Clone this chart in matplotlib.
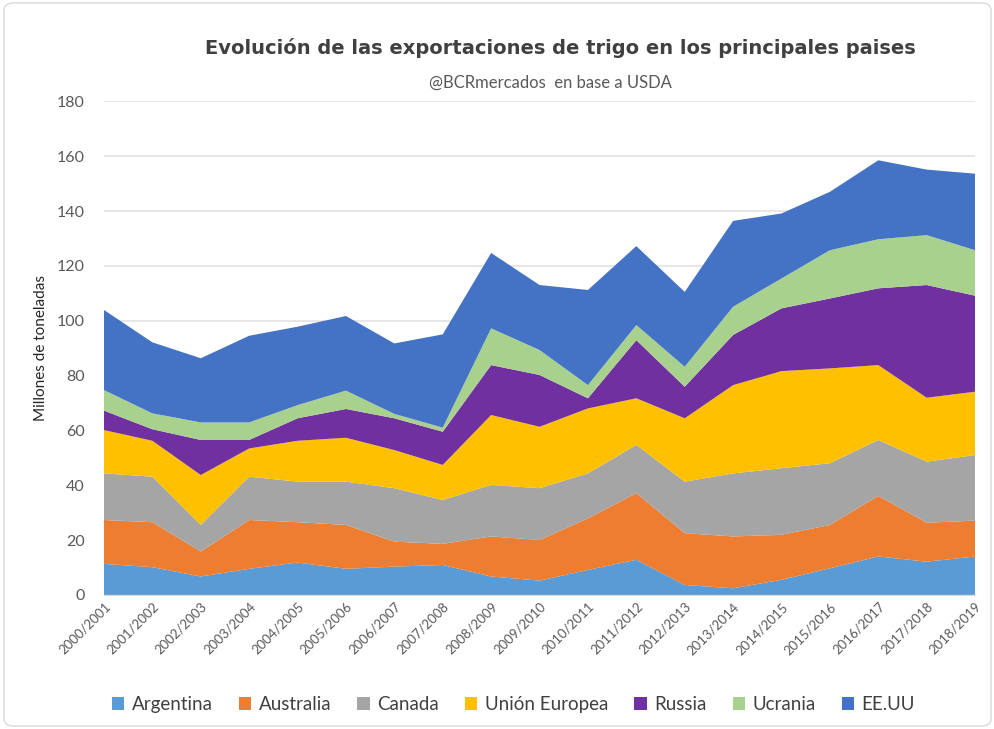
import matplotlib

matplotlib.use("Agg")
import matplotlib.pyplot as plt
import numpy as np
from matplotlib import font_manager
from matplotlib.patches import FancyBboxPatch


seasons = [
    "2000/2001", "2001/2002", "2002/2003", "2003/2004", "2004/2005",
    "2005/2006", "2006/2007", "2007/2008", "2008/2009", "2009/2010",
    "2010/2011", "2011/2012", "2012/2013", "2013/2014", "2014/2015",
    "2015/2016", "2016/2017", "2017/2018", "2018/2019",
]

argentina = [11.3, 10.1, 6.7, 9.5, 11.8, 9.5, 10.3, 10.9, 6.7, 5.2,
             9.1, 12.8, 3.6, 2.4, 5.5, 9.7, 14.0, 12.1, 14.0]
australia = [16.0, 16.4, 9.1, 17.8, 14.7, 16.0, 9.1, 7.7, 14.6, 14.8,
             18.8, 24.3, 18.9, 18.9, 16.4, 15.8, 22.1, 14.2, 13.1]
canada = [17.0, 16.6, 9.7, 15.8, 14.8, 15.8, 19.5, 16.0, 18.8, 18.9,
          16.4, 17.6, 18.8, 23.0, 24.3, 22.5, 20.4, 22.3, 23.9]
union_europea = [15.8, 13.1, 18.2, 10.3, 14.9, 16.0, 13.9, 12.8, 25.5, 22.4,
                 23.7, 17.0, 23.1, 32.2, 35.4, 34.6, 27.3, 23.3, 23.1]
russia = [7.1, 4.2, 12.8, 3.1, 8.2, 10.5, 11.6, 12.1, 18.2, 18.9,
          3.7, 21.2, 11.5, 18.3, 22.9, 25.5, 28.0, 41.1, 35.0]
ucrania = [7.5, 5.8, 6.4, 6.4, 4.8, 6.7, 1.6, 1.5, 13.4, 9.1,
           4.8, 5.5, 7.3, 10.3, 10.9, 17.6, 17.9, 18.2, 16.6]
eeuu = [29.2, 25.9, 23.4, 31.6, 28.6, 27.2, 25.7, 34.0, 27.5, 23.7,
        34.7, 28.8, 27.3, 31.3, 23.7, 21.3, 28.8, 23.9, 27.9]

labels = ["Argentina", "Australia", "Canada", "Unión Europea", "Russia", "Ucrania", "EE.UU"]
colors = ["#5B9BD5", "#ED7D31", "#A5A5A5", "#FFC000", "#7030A0", "#A9D18E", "#4472C4"]

y_ticks = list(range(0, 181, 20))

plt.rcParams["font.family"] = ["Lato", "DejaVu Sans"]

# narrow bold face for the title, if one is installed
installed = {f.name for f in font_manager.fontManager.ttflist}
title_family = [n for n in ("Liberation Sans Narrow", "DejaVu Sans Condensed") if n in installed]
title_size = 16 if title_family else 14
title_family = title_family + ["DejaVu Sans"]

fig = plt.figure(figsize=(9.95, 7.29), dpi=100)
fig.patches.append(
    FancyBboxPatch((0.004, 0.004), 0.992, 0.992, boxstyle="round,pad=0,rounding_size=0.01",
                   transform=fig.transFigure, facecolor="none", edgecolor="#D9D9D9",
                   linewidth=1.0)
)
ax = fig.add_axes([0.1045, 0.184, 0.8755, 0.677])

x = np.arange(len(seasons))
series = [argentina, australia, canada, union_europea, russia, ucrania, eeuu]
ax.stackplot(x, *series, labels=labels, colors=colors, linewidth=0)

ax.set_xlim(0, len(seasons) - 1)
ax.set_ylim(0, 180)
ax.set_yticks(y_ticks)
ax.yaxis.grid(True, color="#E3E3E3", linewidth=1.2)
ax.set_axisbelow(True)
for side in ("top", "right", "left"):
    ax.spines[side].set_visible(False)
ax.spines["bottom"].set_color("#D9D9D9")
ax.tick_params(axis="y", length=0, labelsize=11.5, labelcolor="#595959", pad=14)
ax.tick_params(axis="x", length=0, labelsize=9.5, labelcolor="#595959", pad=4)
ax.set_xticks(x)
ax.set_xticklabels(seasons, rotation=45, ha="right", rotation_mode="anchor")
ax.set_ylabel("Millones de toneladas", fontsize=11, color="#262626", labelpad=6)

fig.text(0.563, 0.934, "Evolución de las exportaciones de trigo en los principales paises",
         ha="center", va="center", fontsize=title_size, fontweight="bold", color="#404040",
         family=title_family)
fig.text(0.553, 0.886, "@BCRmercados  en base a USDA", ha="center", va="center",
         fontsize=12, color="#595959")

ax.legend(loc="center", bbox_to_anchor=(0.47, -0.222), ncol=7, frameon=False,
          fontsize=13.5, handlelength=0.65, handleheight=0.65, handletextpad=0.4,
          columnspacing=1.4, labelcolor="#404040")

fig.savefig("out.png", dpi=100)
